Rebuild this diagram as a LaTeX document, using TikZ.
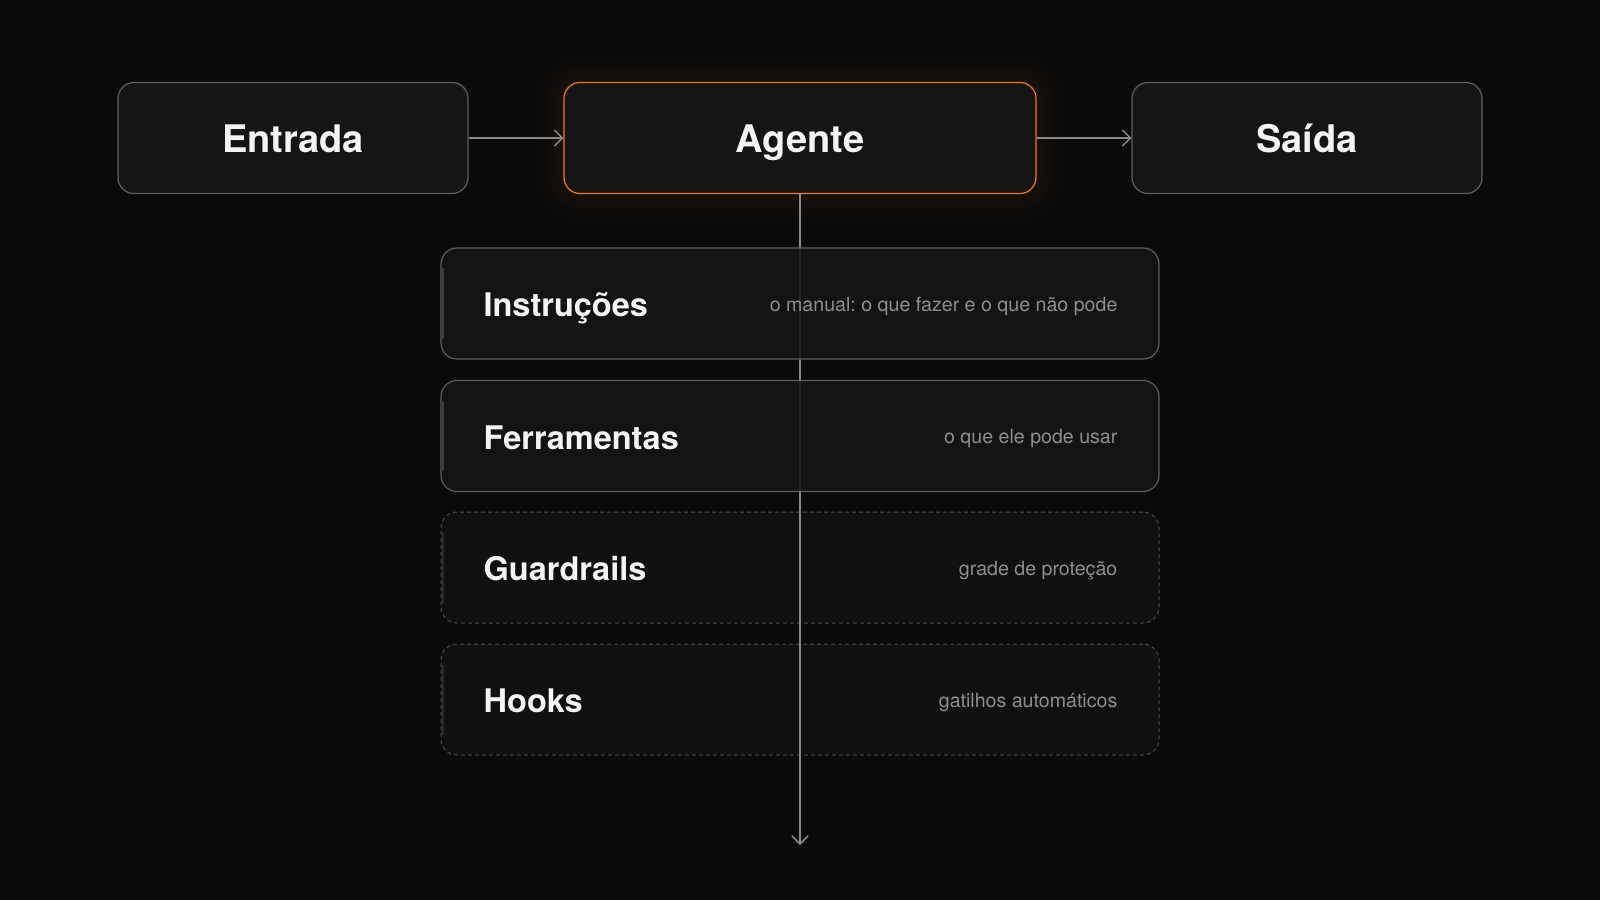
\documentclass[tikz,border=0pt]{standalone}
\usepackage{fontspec}
\setmainfont{TeX Gyre Heros}
\usetikzlibrary{arrows.meta,calc}
\definecolor{bg}{HTML}{0A0A0A}
\definecolor{boxfill}{HTML}{151515}
\definecolor{boxline}{HTML}{5E5E5E}
\definecolor{dashline}{HTML}{4C4C4C}
\definecolor{conn}{HTML}{8A8A8A}
\definecolor{orng}{HTML}{F5761A}
\definecolor{titlec}{HTML}{F4F4F4}
\definecolor{descc}{HTML}{8E8E8E}
\definecolor{accentc}{HTML}{3C3C3C}
\definecolor{accentd}{HTML}{2A2A2A}
\begin{document}
\frenchspacing
\begin{tikzpicture}[x=1pt,y=-1pt,
  topbox/.style={draw=boxline, line width=1.2pt, fill=boxfill, rounded corners=16pt,
    minimum height=111pt, inner sep=0pt, text=titlec,
    font=\fontsize{38}{40}\selectfont\bfseries, text height=28.5pt, text depth=0pt},
  listbox/.style={draw=boxline, line width=1.2pt, fill=boxfill, fill opacity=0.84, draw opacity=1,
    rounded corners=16pt, minimum width=718pt, minimum height=111pt, inner sep=0pt},
  dashbox/.style={draw=dashline, line width=1pt, dash pattern=on 4pt off 3pt, fill=boxfill, fill opacity=0.55,
    rounded corners=16pt, minimum width=718pt, minimum height=111pt, inner sep=0pt},
  listtitle/.style={anchor=base west, inner sep=0pt, text=titlec, font=\fontsize{32.5}{34}\selectfont\bfseries},
  listdesc/.style={anchor=base east, inner sep=0pt, text=descc, font=\fontsize{19.6}{22}\selectfont},
  connline/.style={draw=conn, line width=1.5pt},
  arrowline/.style={connline, -{Straight Barb[length=8pt,width=16pt]}}
]
\fill[bg] (0,0) rectangle (1600,900);
\useasboundingbox (0,0) rectangle (1600,900);

% glow around Agente
\foreach \w in {50,40,31,23,16,10,5}
  \draw[orng, opacity=0.013, line width=\w pt, rounded corners=16pt] (564,83) rectangle (1036,193);

% top row
\node[topbox, minimum width=350pt] (entrada) at (293,138) {Entrada};
\node[topbox, minimum width=472pt, draw=orng] (agente) at (800,138) {Agente};
\node[topbox, minimum width=350pt] (saida) at (1307,138) {Saída};

\draw[arrowline] (entrada.east) -- (agente.west);
\draw[arrowline] (agente.east) -- (saida.west);

% dashed boxes (below the line)
\node[dashbox] (guard) at (800,567.5) {};
\node[dashbox] (hooks) at (800,699.5) {};

% vertical connector
\coordinate (endpt) at (800,845);
\draw[arrowline] (agente.south) -- (endpt);

% solid boxes (above the line)
\node[listbox] (instr) at (800,303.5) {};
\node[listbox] (ferr) at (800,436) {};

% accent bars
\foreach \b/\c in {instr/accentc, ferr/accentc, guard/accentd, hooks/accentd}
  \fill[\c] ([xshift=1pt,yshift=-21pt]\b.north west) rectangle ([xshift=3.5pt,yshift=21pt]\b.south west);

% texts
\node[listtitle] (instr-t) at ([xshift=43pt,yshift=-13pt]instr.west) {Instruções};
\node[listdesc] (instr-d) at ([xshift=-42pt,yshift=-7.5pt]instr.east) {o manual: o que fazer e o que não pode};
\node[listtitle] (ferr-t) at ([xshift=43pt,yshift=-13pt]ferr.west) {Ferramentas};
\node[listdesc] (ferr-d) at ([xshift=-42pt,yshift=-7.5pt]ferr.east) {o que ele pode usar};
\node[listtitle] (guard-t) at ([xshift=43pt,yshift=-13pt]guard.west) {Guardrails};
\node[listdesc] (guard-d) at ([xshift=-42pt,yshift=-7.5pt]guard.east) {grade de proteção};
\node[listtitle] (hooks-t) at ([xshift=43pt,yshift=-13pt]hooks.west) {Hooks};
\node[listdesc] (hooks-d) at ([xshift=-42pt,yshift=-7.5pt]hooks.east) {gatilhos automáticos};
\end{tikzpicture}
\end{document}
